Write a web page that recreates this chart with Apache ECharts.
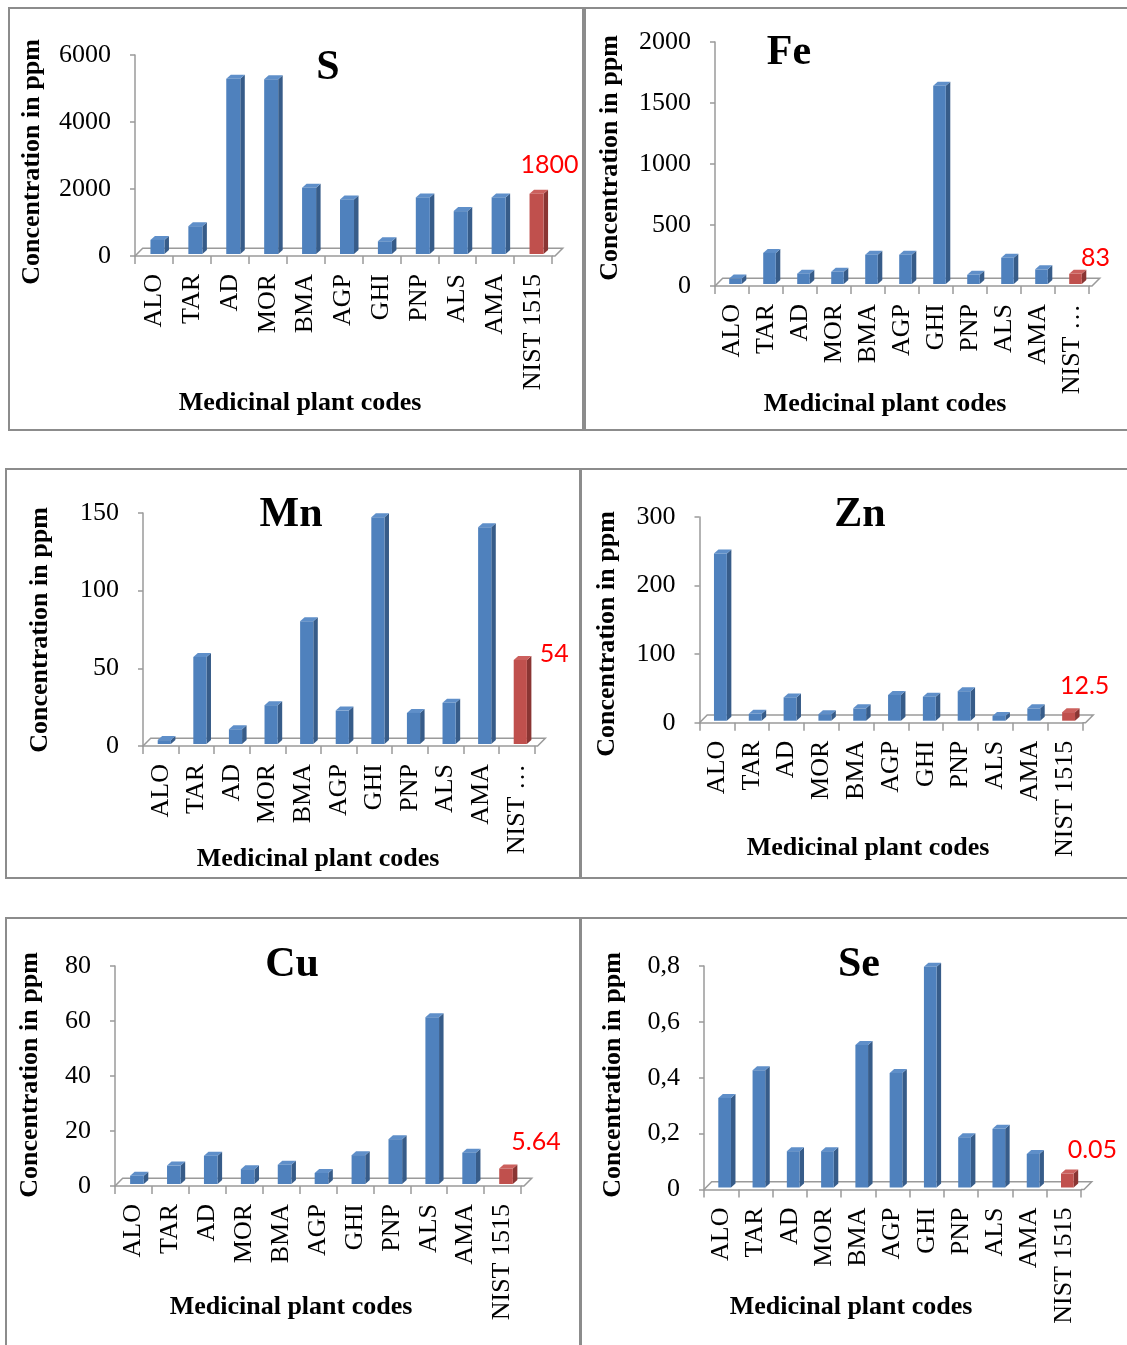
<!DOCTYPE html>
<html>
<head>
<meta charset="utf-8">
<script src="https://cdn.jsdelivr.net/npm/echarts@6/dist/echarts.min.js"></script>
<style>
	html, body { margin: 0; padding: 0; background: #fff; }
	#chart { width: 1127px; height: 1345px; }
</style>
</head>
<body>
<div id="chart"></div>
<script>
// categories and values
var categories = [ 'ALO', 'TAR', 'AD', 'MOR', 'BMA', 'AGP', 'GHI', 'PNP', 'ALS', 'AMA', 'NIST 1515' ];

var sValues = [ 420, 830, 5230, 5220, 1980, 1630, 380, 1690, 1280, 1690, 1800 ];
var feValues = [ 45, 255, 85, 100, 240, 240, 1625, 75, 215, 120, 83 ];
var mnValues = [ 2.5, 56, 9.5, 25, 79, 21.5, 146, 20, 26.5, 139.5, 54 ];
var znValues = [ 244, 10, 34, 9.5, 18, 37.5, 35, 43, 7, 18, 12.5 ];
var cuValues = [ 3, 6.7, 10.3, 5.4, 7, 4, 10.5, 16.3, 60.6, 11.4, 5.64 ];
var seValues = [ 0.32, 0.42, 0.13, 0.13, 0.51, 0.41, 0.79, 0.18, 0.21, 0.12, 0.05 ];

var elementNames = [ 'S', 'Fe', 'Mn', 'Zn', 'Cu', 'Se' ];
var axisMax = [ 6000, 2000, 150, 300, 80, 0.8 ];
var axisStep = [ 2000, 500, 50, 100, 20, 0.2 ];
var refLabels = [ '1800', '83', '54', '12.5', '5.64', '0.05' ];

var allValues = [ sValues, feValues, mnValues, znValues, cuValues, seValues ];

// panel layout (pixels)
var panels = [
	{ box : [ 9, 8, 574, 422 ], grid : [ 135, 55, 417, 201 ], title : [ 328, 68 ], yName : [ 32, 162 ], xName : [ 300, 403 ], lab : [ 13, -29 ], nist : 'NIST 1515' },
	{ box : [ 585, 8, 560, 422 ], grid : [ 715, 42, 374, 244 ], title : [ 789, 53 ], yName : [ 610, 158 ], xName : [ 885, 404 ], lab : [ 20, -16 ], nist : 'NIST \u2026' },
	{ box : [ 6, 469, 574, 409 ], grid : [ 143, 513, 391.6, 233 ], title : [ 291, 515 ], yName : [ 40, 630 ], xName : [ 318, 859 ], lab : [ 34, -6 ], nist : 'NIST \u2026' },
	{ box : [ 581, 469, 560, 409 ], grid : [ 699.5, 517, 383, 205.7 ], title : [ 860, 515 ], yName : [ 607, 634 ], xName : [ 868, 848 ], lab : [ 16, -26 ], nist : 'NIST 1515' },
	{ box : [ 6, 918, 574, 440 ], grid : [ 115, 966, 406, 220 ], title : [ 292, 965 ], yName : [ 30, 1075 ], xName : [ 291, 1307 ], lab : [ 30, -27 ], nist : 'NIST 1515' },
	{ box : [ 581, 918, 560, 440 ], grid : [ 704, 966, 377, 223.5 ], title : [ 859, 965 ], yName : [ 613, 1075 ], xName : [ 851, 1307 ], lab : [ 25, -24 ], nist : 'NIST 1515' }
];

var serif = 'Liberation Serif';
var lineGrey = '#9a9a9a';
var blue = { front : '#4F81BD', side : '#375C89', top : '#5F8FC9' };
var red = { front : '#C0504D', side : '#8A3533', top : '#CC605D' };

var FLOOR = 7.7; // depth of the floor
var DX = 4.5, DY = 4; // bar depth

function makeRenderItem(p) {
	return function(params, api) {
		var idx = api.value(0);
		var base = api.coord([ idx, 0 ]);
		var top = api.coord([ idx, api.value(1) ]);
		var band = api.size([ 1, 0 ])[0];
		var w = band * 0.37;
		var cx = base[0] + 3.5;
		var x0 = cx - w / 2, x1 = cx + w / 2;
		var yb = base[1] - 2, yt = top[1] - 2;
		var isRef = params.dataIndex === categories.length - 1;
		var c = isRef ? red : blue;
		var children = [];

		// floor of the 3D plot, drawn once
		if (params.dataIndex === 0) {
			var cs = params.coordSys;
			var fy = cs.y + cs.height;
			children.push({
				type : 'polyline',
				shape : { points : [ [ cs.x, fy ], [ cs.x + FLOOR, fy - FLOOR ],
					[ cs.x + cs.width + 3 + FLOOR, fy - FLOOR ], [ cs.x + cs.width + 3, fy ], [ cs.x + cs.width, fy ] ] },
				style : { stroke : lineGrey, lineWidth : 1.5, fill : null }
			});
		}

		children.push({
			type : 'polygon',
			shape : { points : [ [ x1, yt ], [ x1 + DX, yt - DY ], [ x1 + DX, yb - DY ], [ x1, yb ] ] },
			style : { fill : c.side }
		});
		children.push({
			type : 'polygon',
			shape : { points : [ [ x0, yt ], [ x0 + DX, yt - DY ], [ x1 + DX, yt - DY ], [ x1, yt ] ] },
			style : { fill : c.top }
		});
		children.push({
			type : 'rect',
			shape : { x : x0, y : yt, width : w, height : yb - yt },
			style : { fill : c.front }
		});

		if (isRef) {
			children.push({
				type : 'text',
				x : cx + p.lab[0],
				y : yt + p.lab[1],
				style : {
					text : refLabels[p.index],
					fill : '#FF0000',
					fontFamily : 'Lato',
					fontSize : 25,
					align : 'center',
					verticalAlign : 'middle'
				}
			});
		}
		return { type : 'group', children : children };
	};
}

var grids = [], xAxes = [], yAxes = [], series = [], graphics = [];

for (var i = 0; i < panels.length; i++) {
	var p = panels[i];
	p.index = i;

	graphics.push({
		type : 'rect',
		shape : { x : p.box[0], y : p.box[1], width : p.box[2], height : p.box[3] },
		style : { fill : null, stroke : '#8c8c8c', lineWidth : 2 },
		z : -10
	});
	graphics.push({
		type : 'text', x : p.title[0], y : p.title[1],
		style : { text : elementNames[i], fontFamily : serif, fontWeight : 'bold', fontSize : 42,
			fill : '#000', align : 'center', verticalAlign : 'middle' }
	});
	graphics.push({
		type : 'text', x : p.yName[0], y : p.yName[1], rotation : Math.PI / 2,
		style : { text : 'Concentration in ppm', fontFamily : serif, fontWeight : 'bold', fontSize : 26,
			fill : '#000', align : 'center', verticalAlign : 'middle' }
	});
	graphics.push({
		type : 'text', x : p.xName[0], y : p.xName[1],
		style : { text : 'Medicinal plant codes', fontFamily : serif, fontWeight : 'bold', fontSize : 26,
			fill : '#000', align : 'center', verticalAlign : 'middle' }
	});

	grids.push({ left : p.grid[0], top : p.grid[1], width : p.grid[2], height : p.grid[3], containLabel : false });

	(function(nist, comma) {
		xAxes.push({
			type : 'category',
			gridIndex : i,
			data : categories,
			boundaryGap : true,
			axisLine : { lineStyle : { color : lineGrey, width : 1.5 } },
			axisTick : { show : true, length : 8, lineStyle : { color : lineGrey, width : 1.5 } },
			axisLabel : {
				rotate : 90, interval : 0, margin : 18,
				fontFamily : serif, fontSize : 26, color : '#000',
				formatter : function(v) {
					return v === 'NIST 1515' ? nist : v;
				}
			}
		});

		yAxes.push({
			type : 'value',
			gridIndex : i,
			min : 0,
			max : axisMax[i],
			interval : axisStep[i],
			axisLine : { show : true, lineStyle : { color : lineGrey, width : 1.5 } },
			axisTick : { show : true, length : 5, lineStyle : { color : lineGrey, width : 1.5 } },
			splitLine : { show : false },
			axisLabel : {
				margin : 24, fontFamily : serif, fontSize : 26, color : '#000',
				formatter : function(v) {
					var s = String(+v.toFixed(4));
					return comma ? s.replace('.', ',') : s;
				}
			}
		});
	})(p.nist, i === 5);

	series.push({
		type : 'custom',
		xAxisIndex : i,
		yAxisIndex : i,
		renderItem : makeRenderItem(p),
		encode : { x : 0, y : 1 },
		data : categories.map(function(c, j) {
			return [ j, allValues[i][j] ];
		}),
		animation : false
	});
}

var chart = echarts.init(document.getElementById('chart'));
chart.setOption({
	backgroundColor : '#fff',
	animation : false,
	grid : grids,
	xAxis : xAxes,
	yAxis : yAxes,
	graphic : graphics,
	series : series
});
</script>
</body>
</html>
